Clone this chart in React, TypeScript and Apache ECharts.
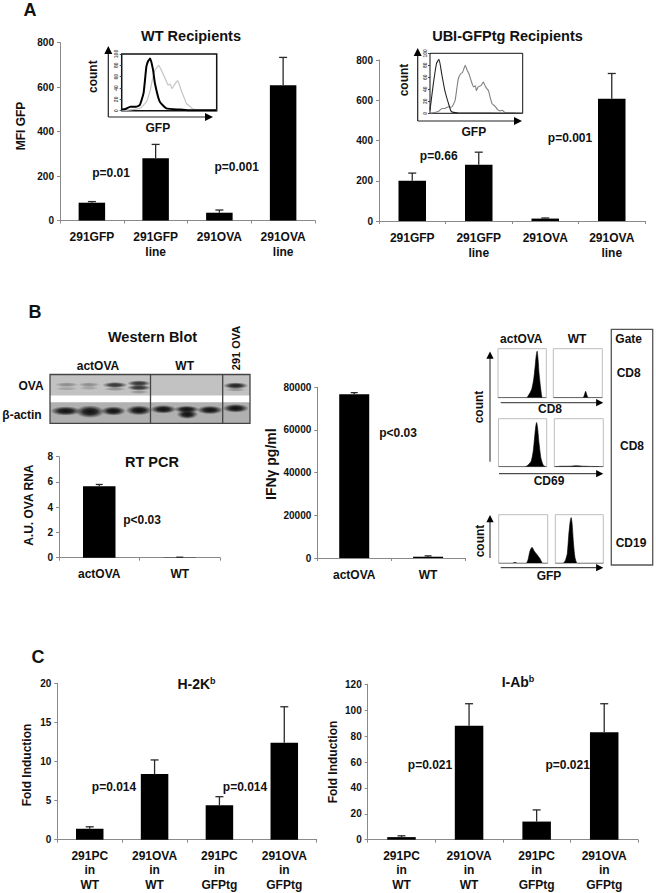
import React, { useEffect, useRef } from "react";
import * as echarts from "echarts";

// ---------- data ----------
const catsGfp = ["291GFP", "291GFP\nline", "291OVA", "291OVA\nline"];
const wtMfi = [80, 280, 35, 608];
const wtMfiTop = [85, 342, 47, 733];
const ubiMfi = [200, 280, 12, 608];
const ubiMfiTop = [238, 342, 15, 733];

const catsAct = ["actOVA", "WT"];
const rtPcr = [5.65, 0.02];
const rtPcrTop = [5.8, 0.04];
const ifn = [76700, 600];
const ifnTop = [77500, 1000];

const catsPc = ["291PC\nin\nWT", "291OVA\nin\nWT", "291PC\nin\nGFPtg", "291OVA\nin\nGFPtg"];
const h2k = [1.4, 8.4, 4.4, 12.4];
const h2kTop = [1.65, 10.2, 5.5, 17];
const iab = [2, 88, 14, 83];
const iabTop = [3, 105, 23, 105];

const insetWtBlack = [[0, 2], [4, 3], [9, 7], [15, 7], [19, 10], [23, 31], [26, 78], [28, 88], [30, 92], [33, 72], [35, 48], [40, 16], [47, 4], [61, 2], [70, 1], [100, 1]];
const insetWtGray = [[0, 0], [19, 4], [26, 16], [30, 36], [32, 52], [35, 72], [37, 76], [39, 80], [41, 74], [44, 63], [47, 52], [49, 45], [51, 47], [53, 39], [56, 47], [59, 53], [61, 44], [63, 34], [66, 22], [68, 13], [71, 9], [74, 4], [82, 1], [100, 1]];
const insetUbiBlack = [[0, 5], [3.6, 49], [7, 83], [9.7, 90], [12.6, 66], [16, 38], [20, 16], [23, 3], [30, 1], [100, 0]];
const insetUbiGray = [[0, 0], [9, 3], [13, 8], [16, 8], [20, 11], [23, 10], [27, 21], [29, 42], [30.6, 58], [33, 66], [35, 68], [37, 76], [38, 80], [40, 72], [42, 66], [44, 56], [47, 44], [49, 46], [50, 38], [52, 44], [55, 46], [57.5, 52], [60, 44], [63, 38], [65, 26], [67, 16], [70, 12], [73, 6], [75.5, 4], [78, 5], [81, 1], [90, 1], [100, 0]];

const cd8Act = [[0, 0], [59, 0], [65, 8], [70, 18], [74, 38], [77, 65], [79, 85], [81, 95], [83, 78], [85, 50], [88, 22], [92, 0], [100, 0]];
const cd8Wt = [[0, 0], [60, 0], [63, 4], [66, 13], [69, 4], [72, 0], [100, 0]];
const cd69Act = [[0, 0], [55, 0], [62, 4], [68, 12], [72, 32], [75, 62], [77, 82], [79, 92], [81, 82], [84, 50], [88, 18], [92, 5], [97, 0], [100, 0]];
const cd69Wt = [[0, 0], [15, 1], [30, 1], [45, 2], [60, 1], [100, 0]];
const gfpAct = [[0, 0], [28, 0], [33, 2], [38, 0], [56, 0], [60, 8], [64, 26], [68, 33], [72, 26], [78, 18], [84, 10], [90, 0], [100, 0]];
const gfpWt = [[0, 0], [16, 0], [21, 6], [25, 20], [28, 58], [31, 86], [33, 94], [35, 82], [38, 40], [41, 12], [46, 0], [100, 0]];

// ---------- layout & helpers ----------
const FONT = '"Liberation Sans", Arial, sans-serif';
const AXIS_GRAY = "#8a8a8a";

const errorSeries = (vals: number[], tops: number[], idx: number, capHalf = 4) => ({
  type: "custom",
  xAxisIndex: idx,
  yAxisIndex: idx,
  silent: true,
  z: 5,
  data: vals.map((v, i) => [i, v, tops[i]]),
  renderItem: (_: any, api: any) => {
    const lo = api.coord([api.value(0), api.value(1)]);
    const hi = api.coord([api.value(0), api.value(2)]);
    const st = { stroke: "#2a2a2a", lineWidth: 1.3, fill: "none" };
    return {
      type: "group",
      children: [
        { type: "line", shape: { x1: lo[0], y1: lo[1], x2: hi[0], y2: hi[1] }, style: st },
        { type: "line", shape: { x1: hi[0] - capHalf, y1: hi[1], x2: hi[0] + capHalf, y2: hi[1] }, style: st },
      ],
    };
  },
});

const barSeries = (vals: number[], idx: number, width: number) => ({
  type: "bar",
  xAxisIndex: idx,
  yAxisIndex: idx,
  data: vals,
  barWidth: width,
  silent: true,
  itemStyle: { color: "#000" },
});

const txt = (text: string, x: number, y: number, size = 12, rotate = false, weight = "bold", fill = "#111") => ({
  type: "text",
  x,
  y,
  rotation: rotate ? Math.PI / 2 : 0,
  z: 20,
  silent: true,
  style: {
    text,
    fill,
    align: "center",
    verticalAlign: "middle",
    font: `${weight} ${size}px ${FONT}`,
  },
});

const arrow = (x1: number, y1: number, x2: number, y2: number, color = "#222", w = 1.2, head = 5) => {
  const a = Math.atan2(y2 - y1, x2 - x1);
  const back = (s: number) => [
    x2 - head * 1.6 * Math.cos(a) + s * head * Math.sin(a) * 0.8,
    y2 - head * 1.6 * Math.sin(a) - s * head * Math.cos(a) * 0.8,
  ];
  return [
    { type: "line", z: 15, silent: true, shape: { x1, y1, x2: x2 - head * Math.cos(a), y2: y2 - head * Math.sin(a) }, style: { stroke: color, lineWidth: w } },
    { type: "polygon", z: 15, silent: true, shape: { points: [[x2, y2], back(1), back(-1)] }, style: { fill: "#000" } },
  ];
};

const band = (cx: number, cy: number, rx: number, ry: number, a: number) => ({
  type: "ellipse",
  z: 11,
  silent: true,
  shape: { cx, cy, rx, ry },
  style: {
    fill: new echarts.graphic.RadialGradient(0.5, 0.5, 0.5, [
      { offset: 0, color: `rgba(15,15,15,${a})` },
      { offset: 0.45, color: `rgba(15,15,15,${a * 0.85})` },
      { offset: 1, color: "rgba(15,15,15,0)" },
    ]),
  },
});

// blot bands on a 3x grid: [x, y, rx, ry, darkness], offset to the page below
const blotBands = [
  [200, 59, 36, 7, 0.3], [200, 71, 34, 6, 0.18],
  [267, 59, 33, 7, 0.3], [267, 69, 30, 6, 0.18],
  [345, 60, 38, 9, 0.8], [345, 72, 34, 6, 0.28],
  [417, 55, 36, 9, 0.8], [417, 68, 36, 9, 0.8], [417, 81, 30, 6, 0.25],
  [707, 62, 38, 10, 0.9], [707, 74, 32, 6, 0.25],
  [197, 138, 46, 14, 1], [270, 140, 44, 19, 1], [340, 138, 38, 14, 1], [417, 136, 40, 15, 1],
  [490, 133, 40, 13, 1], [560, 133, 38, 11, 1], [562, 148, 32, 14, 1], [630, 135, 40, 13, 1], [707, 130, 40, 13, 1],
];

const gridsDef = [
  { left: 60, top: 42.5, width: 255, height: 178 },
  { left: 379, top: 60, width: 266, height: 161 },
  { left: 59, top: 456.7, width: 161, height: 101 },
  { left: 317.3, top: 387.3, width: 147.7, height: 170.7 },
  { left: 57.3, top: 683.3, width: 259.4, height: 156.4 },
  { left: 367.7, top: 684.3, width: 270.3, height: 155.4 },
];

const axisX = (idx: number, data: string[], lh = 15) => ({
  type: "category",
  gridIndex: idx,
  data,
  axisLine: { lineStyle: { color: AXIS_GRAY, width: 1 } },
  axisTick: { show: true, length: 3, lineStyle: { color: AXIS_GRAY } },
  axisLabel: { color: "#111", fontFamily: FONT, fontWeight: "bold", fontSize: 12, margin: 9, lineHeight: lh, interval: 0 },
});

const axisY = (idx: number, max: number, interval: number, name?: string, gap = 30, padding?: number[], nameSize = 12) => ({
  type: "value",
  gridIndex: idx,
  min: 0,
  max,
  interval,
  name,
  nameLocation: "middle",
  nameRotate: 90,
  nameGap: gap,
  nameTextStyle: { color: "#111", fontFamily: FONT, fontWeight: "bold", fontSize: nameSize, padding },
  splitLine: { show: false },
  axisLine: { show: true, lineStyle: { color: AXIS_GRAY, width: 1 } },
  axisTick: { show: true, length: 3, lineStyle: { color: AXIS_GRAY } },
  axisLabel: { color: "#111", fontFamily: FONT, fontWeight: "bold", fontSize: 10, margin: 6, formatter: (v: number) => String(v) },
});

// small plots: insets and histograms
const insetGrids = [
  { left: 121.7, top: 54, width: 95, height: 56.7, show: true, borderColor: "#111", borderWidth: 1.5, backgroundColor: "#fff", z: 8 },
  { left: 430, top: 53.3, width: 92.7, height: 60, show: true, borderColor: "#111", borderWidth: 1, backgroundColor: "#fff", z: 8 },
];
const histBoxes = [
  { left: 498, top: 348.7, width: 48.3, height: 49, data: cd8Act },
  { left: 553.3, top: 348.7, width: 49, height: 49, data: cd8Wt },
  { left: 498.5, top: 418.7, width: 48.2, height: 48, data: cd69Act },
  { left: 554.3, top: 418.7, width: 49, height: 48, data: cd69Wt },
  { left: 498.7, top: 514.7, width: 49, height: 48.6, data: gfpAct },
  { left: 555.3, top: 514.7, width: 48, height: 48.6, data: gfpWt },
];

const buildOption = () => {
  const grid: any[] = gridsDef.map((g) => ({ ...g }));
  const xAxis: any[] = [
    axisX(0, catsGfp),
    axisX(1, catsGfp),
    axisX(2, catsAct),
    axisX(3, catsAct),
    axisX(4, catsPc, 14.5),
    axisX(5, catsPc, 14.5),
  ];
  const yAxis: any[] = [
    axisY(0, 800, 200, "MFI GFP", 33, [0, 0, 0, 11]),
    axisY(1, 800, 200),
    axisY(2, 8, 2, "A.U. OVA RNA", 24, [0, 0, 0, 4]),
    axisY(3, 80000, 20000, "IFNγ pg/ml", 39, [0, 0, 0, 17], 14),
    axisY(4, 20, 5, "Fold Induction", 24, [0, 7, 0, 0]),
    axisY(5, 120, 20, "Fold Induction", 29),
  ];
  const series: any[] = [
    barSeries(wtMfi, 0, 26.5), errorSeries(wtMfi, wtMfiTop, 0),
    barSeries(ubiMfi, 1, 27.5), errorSeries(ubiMfi, ubiMfiTop, 1),
    barSeries(rtPcr, 2, 32.5), errorSeries(rtPcr, rtPcrTop, 2, 3.5),
    barSeries(ifn, 3, 30), errorSeries(ifn, ifnTop, 3, 3.5),
    barSeries(h2k, 4, 27.5), errorSeries(h2k, h2kTop, 4),
    barSeries(iab, 5, 28.5), errorSeries(iab, iabTop, 5),
  ];

  // FACS overlay insets
  const insets = [
    { curves: [{ d: insetWtGray, c: "#c4c4c4", w: 1.2 }, { d: insetWtBlack, c: "#000", w: 2 }] },
    { curves: [{ d: insetUbiGray, c: "#808080", w: 1.1 }, { d: insetUbiBlack, c: "#222", w: 1.1 }] },
  ];
  insets.forEach((ins, k) => {
    const idx = grid.length;
    grid.push(insetGrids[k]);
    xAxis.push({ type: "value", gridIndex: idx, min: 0, max: 100, show: false, z: 9 });
    yAxis.push({
      type: "value",
      gridIndex: idx,
      min: 0,
      max: 100,
      interval: 20,
      z: 9,
      splitLine: { show: false },
      axisLine: { show: false },
      axisTick: { show: true, length: 2, lineStyle: { color: "#444" } },
      axisLabel: { fontSize: 5, rotate: 90, margin: 3, color: "#555", fontFamily: FONT, fontWeight: "bold" },
    });
    ins.curves.forEach((cv) =>
      series.push({
        type: "line",
        xAxisIndex: idx,
        yAxisIndex: idx,
        data: cv.d,
        smooth: 0.15,
        symbol: "none",
        silent: true,
        z: 9,
        lineStyle: { color: cv.c, width: cv.w },
      })
    );
  });

  // single-parameter histograms
  histBoxes.forEach((b) => {
    const idx = grid.length;
    grid.push({ left: b.left, top: b.top, width: b.width, height: b.height, show: true, borderColor: "#bdbdbd", borderWidth: 1 });
    xAxis.push({ type: "value", gridIndex: idx, min: 0, max: 100, show: false });
    yAxis.push({ type: "value", gridIndex: idx, min: 0, max: 100, show: false });
    series.push({
      type: "line",
      xAxisIndex: idx,
      yAxisIndex: idx,
      data: b.data,
      smooth: 0.2,
      symbol: "none",
      silent: true,
      lineStyle: { color: "#000", width: 0.6 },
      areaStyle: { color: "#000", opacity: 1 },
    });
  });

  const title = [
    { text: "WT Recipients", left: 186, top: 23, textAlign: "center", textStyle: tStyle(14.5) },
    { text: "UBI-GFPtg Recipients", left: 502.5, top: 23, textAlign: "center", textStyle: tStyle(14.5) },
    { text: "Western Blot", left: 147.5, top: 324, textAlign: "center", textStyle: tStyle(14.5) },
    { text: "RT PCR", left: 147, top: 449, textAlign: "center", textStyle: tStyle(14.5) },
    { text: "H-2K{s|b}", left: 191.5, top: 671, textAlign: "center", textStyle: tStyle(14) },
    { text: "I-Ab{s|b}", left: 513, top: 669, textAlign: "center", textStyle: tStyle(14) },
  ];

  const graphic: any[] = [
    txt("A", 30, 10, 18),
    txt("B", 35, 312, 18),
    txt("C", 38, 657, 18),
    txt("p=0.01", 111, 172.7),
    txt("p=0.001", 236.7, 167),
    txt("p=0.66", 438.7, 156),
    txt("p=0.001", 570, 138),
    txt("p<0.03", 142, 520),
    txt("p<0.03", 398, 432.7),
    txt("p=0.014", 114, 786.7),
    txt("p=0.014", 245, 786.7),
    txt("p=0.021", 430, 765),
    txt("p=0.021", 567.7, 765),
    // insets
    txt("count", 93.3, 76.7, 12, true),
    txt("GFP", 157.8, 127.7),
    ...arrow(108.3, 117, 108.3, 46),
    ...arrow(108.3, 117, 213, 117),
    txt("count", 404, 80, 12, true),
    txt("GFP", 473.8, 131.7),
    ...arrow(417.7, 121, 417.7, 48),
    ...arrow(417.7, 121, 522, 121),
    // western blot
    txt("actOVA", 98, 366),
    txt("WT", 184.7, 366),
    txt("291 OVA", 236, 348, 11, true),
    txt("OVA", 31, 385.7),
    txt("β-actin", 22, 415),
    { type: "rect", z: 10, silent: true, shape: { x: 50, y: 375, width: 200, height: 20.5 }, style: { fill: "#c2c2c2" } },
    { type: "rect", z: 10, silent: true, shape: { x: 50, y: 402.3, width: 200, height: 20.7 }, style: { fill: "#b0b0b0" } },
    ...blotBands.map(([x, y, rx, ry, a]) => band(x / 3, 365 + y / 3, rx / 3, ry / 3, a)),
    { type: "rect", z: 12, silent: true, shape: { x: 50, y: 374.5, width: 200, height: 48.8 }, style: { fill: "none", stroke: "#444", lineWidth: 1.3 } },
    { type: "line", z: 12, silent: true, shape: { x1: 150.5, y1: 374.5, x2: 150.5, y2: 423.3 }, style: { stroke: "#444", lineWidth: 1.3 } },
    { type: "line", z: 12, silent: true, shape: { x1: 222.7, y1: 374.5, x2: 222.7, y2: 423.3 }, style: { stroke: "#444", lineWidth: 1.3 } },
    // flow panel
    txt("actOVA", 521.3, 339),
    txt("WT", 577, 339),
    txt("CD8", 550, 409),
    txt("CD69", 549, 481),
    txt("GFP", 549, 575.7),
    txt("count", 479, 407, 12, true),
    txt("count", 480, 541, 12, true),
    ...arrow(490, 461.7, 490, 351.5, "#222", 1, 4.5),
    ...arrow(490, 558, 490, 515, "#222", 1, 4.5),
    ...arrow(500.7, 402.7, 603.3, 402.7, "#555", 1.2, 4.5),
    ...arrow(499, 473.7, 603.3, 473.7, "#222", 1, 4.5),
    ...arrow(500.7, 567.7, 603.3, 567.7, "#222", 1, 4.5),
    // gate column
    { type: "rect", z: 12, silent: true, shape: { x: 611.3, y: 329.3, width: 41.4, height: 235.7 }, style: { fill: "none", stroke: "#555", lineWidth: 1.3 } },
    txt("Gate", 628.7, 339),
    txt("CD8", 628.7, 373),
    txt("CD8", 632, 446),
    txt("CD19", 631, 543),
  ];

  return { animation: false, backgroundColor: "#fff", title, grid, xAxis, yAxis, series, graphic: { elements: graphic } };
};

function tStyle(size: number) {
  return {
    color: "#111",
    fontFamily: FONT,
    fontWeight: "bold",
    fontSize: size,
    rich: { s: { fontSize: 9, fontWeight: "bold", fontFamily: FONT, color: "#111", verticalAlign: "top", padding: [0, 0, 6, 0] } },
  };
}

export default function App() {
  const ref = useRef<HTMLDivElement>(null);
  useEffect(() => {
    const chart = echarts.init(ref.current!, undefined, { renderer: "svg" });
    chart.setOption(buildOption() as any);
    return () => chart.dispose();
  }, []);
  return <div ref={ref} style={{ position: "absolute", left: 0, top: 0, width: 656, height: 893 }} />;
}
